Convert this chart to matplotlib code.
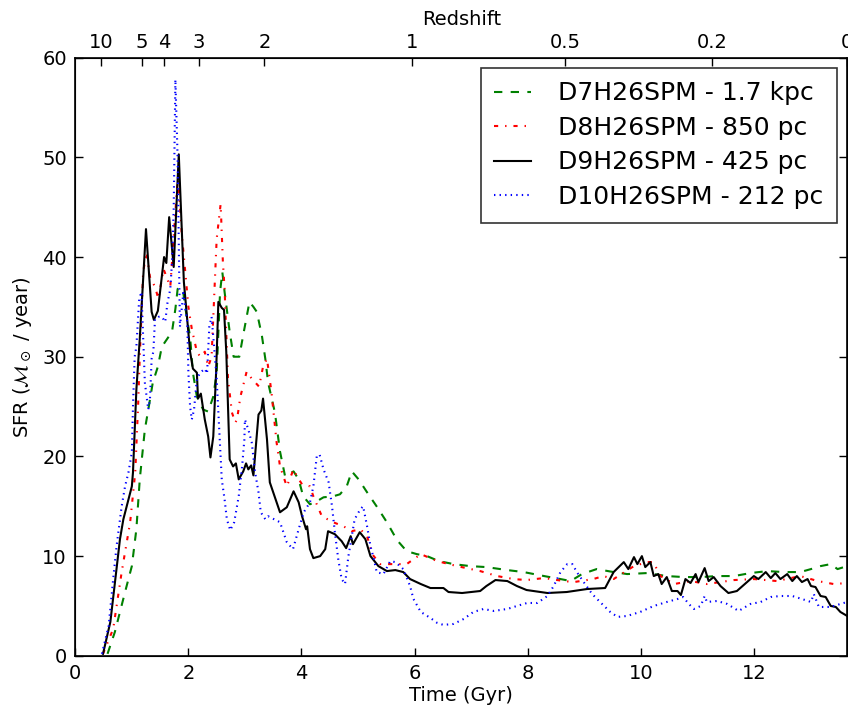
import matplotlib
matplotlib.use("Agg")
import matplotlib.pyplot as plt

plt.rcParams['font.family'] = ['DejaVu Sans']
plt.rcParams['mathtext.fontset'] = 'dejavusans'
plt.rcParams['lines.scale_dashes'] = False

# D7H26SPM - 1.7 kpc (green dashed)
t_d7 = [0.57, 0.70, 0.88, 1.0, 1.08, 1.14, 1.23, 1.30, 1.37, 1.46, 1.53, 1.71, 1.77, 1.81, 1.85, 1.91,
        1.97, 2.03, 2.08, 2.15, 2.26, 2.35, 2.44, 2.50, 2.56, 2.60, 2.64, 2.73, 2.80, 2.90, 2.98, 3.03,
        3.08, 3.15, 3.21, 3.30, 3.36, 3.41, 3.53, 3.62, 3.71, 3.86, 3.95, 4.03, 4.15, 4.27, 4.39, 4.56,
        4.68, 4.80, 4.89, 5.01, 5.16, 5.34, 5.51, 5.69, 5.86, 6.04, 6.22, 6.43, 6.69, 6.98, 7.27, 7.64,
        7.93, 8.29, 8.58, 8.76, 8.96, 9.22, 9.52, 9.76, 10.11, 10.46, 10.76, 11.06, 11.35, 11.65, 11.94,
        12.24, 12.53, 12.82, 13.01, 13.18, 13.36, 13.48, 13.65]
sfr_d7 = [0.2, 2.4, 6.4, 9.0, 12.7, 17.7, 22.7, 25.0, 27.4, 29.0, 31.0, 32.5, 34.8, 36.8, 37.0, 36.4,
          34.0, 32.0, 28.4, 26.0, 24.7, 24.5, 26.0, 28.4, 36.5, 38.5, 36.5, 32.5, 30.0, 30.0, 32.5, 34.0,
          35.5, 35.0, 34.5, 32.1, 29.8, 27.4, 24.4, 20.5, 18.0, 18.5, 17.7, 16.0, 15.2, 15.5, 15.9, 16.0,
          16.2, 17.0, 18.5, 17.7, 16.4, 14.9, 13.4, 11.6, 10.5, 10.2, 10.0, 9.5, 9.2, 9.0, 8.9, 8.6,
          8.4, 8.0, 7.7, 7.5, 8.2, 8.7, 8.4, 8.2, 8.3, 8.0, 7.9, 7.9, 8.0, 8.0, 8.3,
          8.5, 8.4, 8.4, 8.7, 9.0, 9.2, 8.7, 9.0]

# D8H26SPM - 850 pc (red dash-dot)
t_d8 = [0.49, 0.67, 0.82, 0.97, 1.06, 1.11, 1.14, 1.20, 1.26, 1.32, 1.41, 1.47, 1.56, 1.68, 1.80, 1.82,
        1.88, 1.94, 2.0, 2.06, 2.15, 2.21, 2.29, 2.35, 2.41, 2.50, 2.57, 2.61, 2.64, 2.70, 2.77, 2.83,
        2.86, 2.92, 3.03, 3.12, 3.25, 3.32, 3.39, 3.47, 3.56, 3.62, 3.74, 3.86, 3.92, 4.01, 4.15, 4.21,
        4.36, 4.56, 4.74, 4.89, 5.04, 5.16, 5.25, 5.39, 5.63, 5.86, 6.11, 6.40, 6.75, 7.16, 7.46, 7.75,
        7.98, 8.29, 8.64, 8.82, 9.16, 9.34, 9.52, 9.88, 10.11, 10.22, 10.35, 10.59, 10.88, 11.17, 11.41,
        11.65, 12.0, 12.41, 12.82, 13.13, 13.41, 13.65]
sfr_d8 = [0.2, 2.7, 8.4, 13.4, 18.4, 25.0, 30.0, 38.5, 40.5, 38.0, 37.0, 35.8, 38.8, 37.0, 47.0, 47.8,
          42.5, 38.8, 35.0, 32.8, 30.5, 30.0, 30.5, 29.0, 30.0, 41.8, 45.3, 39.5, 36.8, 27.8, 24.4, 23.4,
          23.7, 26.0, 28.5, 27.8, 27.0, 29.0, 29.8, 26.4, 21.4, 19.0, 17.0, 18.7, 18.0, 17.2, 17.0, 16.0,
          14.0, 13.4, 13.0, 12.5, 12.7, 12.0, 10.2, 9.2, 9.2, 9.2, 10.2, 9.5, 9.0, 8.5, 8.0, 7.7,
          7.6, 7.8, 7.5, 7.4, 7.7, 8.0, 7.7, 9.0, 9.4, 9.4, 8.0, 7.2, 7.5, 7.2, 7.4,
          7.6, 7.7, 7.5, 8.0, 7.5, 7.2, 7.3]

# D9H26SPM - 425 pc (black solid)
t_d9 = [0.49, 0.62, 0.79, 0.85, 1.0, 1.02, 1.08, 1.14, 1.25, 1.35, 1.39, 1.46, 1.57, 1.61, 1.66, 1.74,
        1.83, 1.92, 2.03, 2.08, 2.15, 2.17, 2.22, 2.29, 2.35, 2.39, 2.44, 2.49, 2.53, 2.59, 2.63, 2.67,
        2.70, 2.73, 2.79, 2.84, 2.89, 2.97, 3.02, 3.06, 3.11, 3.15, 3.24, 3.29, 3.32, 3.39, 3.44, 3.62,
        3.74, 3.86, 3.95, 4.01, 4.08, 4.10, 4.15, 4.21, 4.33, 4.42, 4.47, 4.59, 4.71, 4.79, 4.87, 4.91,
        5.03, 5.13, 5.22, 5.36, 5.51, 5.66, 5.80, 5.92, 6.11, 6.28, 6.51, 6.60, 6.84, 7.16, 7.27, 7.43,
        7.64, 7.81, 7.98, 8.35, 8.69, 9.05, 9.37, 9.52, 9.70, 9.78, 9.88, 9.94, 10.02, 10.08, 10.17,
        10.23, 10.31, 10.37, 10.46, 10.55, 10.65, 10.71, 10.79, 10.88, 10.97, 11.02, 11.13, 11.20, 11.29,
        11.41, 11.55, 11.70, 11.86, 12.0, 12.08, 12.21, 12.30, 12.38, 12.47, 12.59, 12.68, 12.76, 12.85,
        12.95, 13.01, 13.09, 13.18, 13.27, 13.36, 13.45, 13.53, 13.65]
sfr_d9 = [0.2, 3.4, 11.7, 13.7, 17.0, 18.4, 26.7, 31.8, 42.8, 34.5, 33.7, 34.6, 40.0, 39.4, 44.0, 39.0,
          50.3, 37.5, 30.5, 28.8, 28.4, 25.8, 26.3, 23.7, 22.0, 19.9, 22.0, 28.4, 35.5, 34.9, 34.7, 30.5,
          25.0, 19.7, 19.0, 19.3, 17.7, 18.5, 19.3, 18.7, 19.1, 18.1, 24.2, 24.6, 25.8, 21.7, 17.4, 14.4,
          14.9, 16.5, 15.4, 14.0, 12.7, 13.0, 10.7, 9.8, 10.0, 10.7, 12.5, 12.2, 11.5, 10.8, 12.0, 11.2,
          12.4, 11.7, 10.0, 9.0, 8.5, 8.6, 8.4, 7.7, 7.2, 6.8, 6.8, 6.4, 6.3, 6.5, 7.0, 7.6,
          7.5, 7.0, 6.6, 6.3, 6.4, 6.7, 6.8, 8.4, 9.4, 8.7, 9.9, 9.2, 10.0, 8.9, 9.4,
          8.0, 8.2, 7.2, 7.9, 6.5, 6.5, 6.1, 7.7, 7.3, 8.2, 7.4, 8.8, 7.5, 7.9,
          7.0, 6.3, 6.5, 7.3, 8.0, 7.7, 8.4, 7.8, 8.3, 7.7, 8.2, 7.5, 8.0, 7.4,
          7.7, 7.0, 6.9, 6.0, 5.9, 5.0, 4.9, 4.4, 4.0]

# D10H26SPM - 212 pc (blue dotted)
t_d10 = [0.47, 0.59, 0.67, 0.73, 0.82, 0.88, 0.94, 1.0, 1.02, 1.05, 1.08, 1.13, 1.17, 1.20, 1.23, 1.29,
         1.32, 1.35, 1.38, 1.41, 1.47, 1.53, 1.59, 1.63, 1.68, 1.71, 1.74, 1.77, 1.81, 1.83, 1.85, 1.91,
         1.98, 2.0, 2.03, 2.06, 2.10, 2.15, 2.21, 2.29, 2.33, 2.37, 2.41, 2.44, 2.50, 2.53, 2.56, 2.59,
         2.64, 2.68, 2.74, 2.81, 2.89, 2.95, 2.99, 3.0, 3.06, 3.12, 3.18, 3.24, 3.28, 3.36, 3.41, 3.62,
         3.68, 3.74, 3.85, 3.95, 4.04, 4.15, 4.21, 4.27, 4.32, 4.39, 4.48, 4.54, 4.59, 4.65, 4.71, 4.77,
         4.83, 4.89, 4.94, 5.04, 5.09, 5.16, 5.22, 5.28, 5.33, 5.45, 5.57, 5.66, 5.80, 5.92, 5.98, 6.11,
         6.28, 6.40, 6.51, 6.69, 6.87, 7.04, 7.22, 7.40, 7.64, 7.81, 7.99, 8.17, 8.35, 8.46, 8.58, 8.70,
         8.79, 8.87, 8.99, 9.14, 9.28, 9.46, 9.59, 9.76, 9.99, 10.23, 10.46, 10.65, 10.75, 10.85, 10.94,
         11.06, 11.13, 11.17, 11.35, 11.53, 11.73, 11.94, 12.12, 12.30, 12.47, 12.68, 12.85, 13.01, 13.06,
         13.15, 13.36, 13.53, 13.65]
sfr_d10 = [0.2, 3.0, 7.7, 11.0, 15.0, 17.0, 18.4, 20.4, 25.0, 30.0, 31.0, 35.8, 36.5, 31.8, 27.4, 24.7,
           25.7, 29.8, 30.5, 33.8, 34.0, 34.0, 33.5, 35.4, 36.8, 39.5, 44.8, 57.8, 49.8, 41.0, 33.0, 36.4,
           33.5, 28.4, 25.0, 23.7, 24.7, 27.8, 28.4, 28.8, 28.3, 33.0, 34.0, 32.0, 27.8, 24.4, 21.0, 17.7,
           15.7, 13.7, 12.6, 13.4, 16.0, 19.0, 21.7, 23.7, 22.7, 21.4, 18.4, 16.4, 14.4, 13.7, 14.0, 13.4,
           12.4, 11.4, 10.7, 12.7, 14.4, 15.4, 17.0, 20.0, 20.2, 18.7, 17.4, 15.0, 12.4, 9.7, 7.7, 7.2,
           10.0, 12.0, 13.7, 14.7, 15.0, 13.0, 11.0, 9.7, 8.4, 8.2, 9.5, 9.4, 8.7, 7.0, 5.7, 4.4,
           3.8, 3.3, 3.1, 3.2, 3.7, 4.4, 4.7, 4.5, 4.7, 5.0, 5.3, 5.3, 6.0, 7.0, 8.4, 9.2,
           9.2, 8.4, 7.4, 6.2, 5.4, 4.4, 3.9, 4.0, 4.4, 5.0, 5.4, 5.7, 5.9, 5.2, 4.7,
           5.0, 6.0, 5.4, 5.5, 5.2, 4.5, 5.2, 5.4, 5.9, 6.0, 6.0, 5.7, 5.4, 6.2,
           4.9, 4.9, 5.2, 5.4]

labels = ["D7H26SPM - 1.7 kpc", "D8H26SPM - 850 pc", "D9H26SPM - 425 pc", "D10H26SPM - 212 pc"]

redshift_labels = ["10", "5", "4", "3", "2", "1", "0.5", "0.2", "0"]
redshift_times = [0.455, 1.18, 1.565, 2.184, 3.345, 5.954, 8.667, 11.264, 13.65]

fig = plt.figure(figsize=(8.48, 7.08), dpi=100)
fig.patch.set_facecolor('white')
ax = fig.add_axes([0.0888, 0.0737, 0.9102, 0.8449])

lw = 1.5
ax.plot(t_d7, sfr_d7, color=(0, 0.5, 0), lw=lw, dashes=(6, 6), label=labels[0])
ax.plot(t_d8, sfr_d8, color='red', lw=lw, dashes=(3, 5, 1, 5), label=labels[1])
ax.plot(t_d9, sfr_d9, color='black', lw=lw, linestyle='-', label=labels[2])
ax.plot(t_d10, sfr_d10, color='blue', lw=lw, dashes=(1, 3), label=labels[3])

ax.set_xlim(0, 13.65)
ax.set_ylim(0, 60)
ax.set_xticks([0, 2, 4, 6, 8, 10, 12])
ax.set_yticks([0, 10, 20, 30, 40, 50, 60])
ax.tick_params(direction='in', length=6, width=1, labelsize=14, top=False, right=True, pad=6)
ax.set_xlabel("Time (Gyr)", fontsize=14, labelpad=2)
ax.set_ylabel(r"SFR ($\mathcal{M}_\odot$ / year)", fontsize=14, labelpad=6)
for sp in ax.spines.values():
    sp.set_linewidth(1.2)

ax2 = ax.twiny()
ax2.set_xlim(ax.get_xlim())
ax2.set_xticks(redshift_times)
ax2.set_xticklabels(redshift_labels)
ax2.tick_params(direction='in', length=6, width=1, labelsize=14, pad=4)
ax2.set_xlabel("Redshift", fontsize=14, labelpad=6)

leg = ax.legend(loc='upper right', fontsize=18, frameon=True, fancybox=False,
                edgecolor='black', borderaxespad=0.4, handlelength=1.45,
                handletextpad=1.1, labelspacing=0.42, borderpad=0.55)
leg.get_frame().set_linewidth(1.2)

fig.savefig("out.png", dpi=100, facecolor='white')
